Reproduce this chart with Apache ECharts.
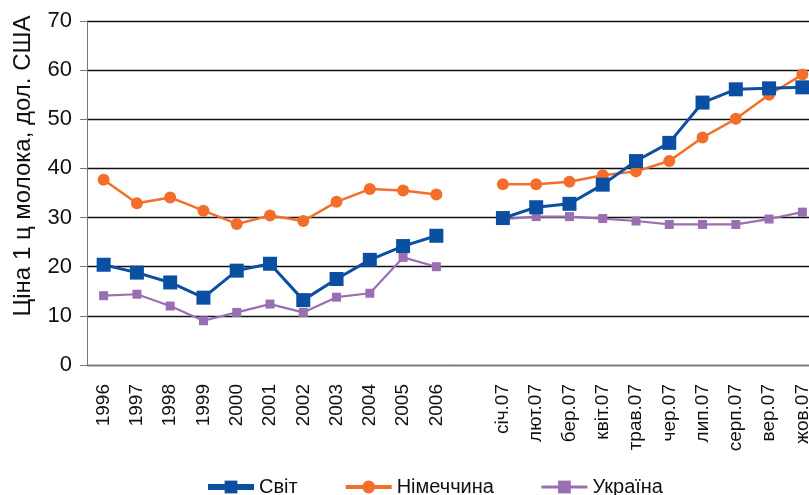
<!DOCTYPE html>
<html>
<head>
<meta charset="utf-8">
<script src="https://cdn.jsdelivr.net/npm/echarts@6/dist/echarts.min.js"></script>
<style>
  html, body { margin: 0; padding: 0; background: #fff; }
  #milkChart { width: 809px; height: 495px; }
</style>
</head>
<body>
<div id="milkChart"></div>
<script>
// категорії: роки, пропуск, місяці 2007
var categories = ['1996', '1997', '1998', '1999', '2000', '2001', '2002', '2003', '2004', '2005', '2006', '',
    'січ.07', 'лют.07', 'бер.07', 'квіт.07', 'трав.07', 'чер.07', 'лип.07', 'серп.07', 'вер.07', 'жов.07'];

var svit = [20.4, 18.8, 16.8, 13.7, 19.2, 20.6, 13.2, 17.5, 21.4, 24.2, 26.3, null,
    29.9, 32.1, 32.8, 36.7, 41.5, 45.2, 53.4, 56.1, 56.3, 56.5];
var nimechchyna = [37.7, 32.9, 34.1, 31.4, 28.7, 30.4, 29.3, 33.2, 35.8, 35.5, 34.7, null,
    36.8, 36.8, 37.3, 38.6, 39.4, 41.5, 46.3, 50.1, 55.0, 59.1];
var ukraina = [14.1, 14.4, 12.0, 9.0, 10.7, 12.4, 10.7, 13.8, 14.6, 21.9, 20.0, null,
    29.7, 30.2, 30.2, 29.8, 29.3, 28.6, 28.6, 28.6, 29.7, 31.1];

var yTicks = [0, 10, 20, 30, 40, 50, 60, 70];

var dom = document.getElementById('milkChart');
var myChart = echarts.init(dom);

var font = 'Liberation Sans, Arial, sans-serif';

var option = {
    animation: false,
    textStyle: { fontFamily: font },
    grid: {
        left: 87,
        top: 21,
        width: 732,
        height: 344,
        containLabel: false,
        outerBoundsMode: 'none'
    },
    legend: {
        left: 200,
        top: 472,
        padding: [5, 5, 0, 5],
        itemWidth: 46,
        itemHeight: 16,
        itemGap: 46,
        textStyle: { fontSize: 20, color: '#111', fontFamily: font },
        data: [
            { name: 'Світ', lineStyle: { width: 6 } },
            { name: 'Німеччина', lineStyle: { width: 4 } },
            { name: 'Україна', lineStyle: { width: 3 } }
        ]
    },
    xAxis: {
        type: 'category',
        data: categories,
        boundaryGap: true,
        axisLine: { lineStyle: { color: '#777', width: 1 } },
        axisTick: { interval: 0, length: 5, lineStyle: { color: '#777' } },
        axisLabel: {
            interval: 0,
            rotate: 90,
            margin: 19,
            fontSize: 19,
            color: '#111',
            fontFamily: font
        },
        splitLine: { show: false }
    },
    yAxis: {
        type: 'value',
        min: yTicks[0],
        max: yTicks[yTicks.length - 1],
        interval: 10,
        name: 'Ціна 1 ц молока, дол. США',
        nameLocation: 'middle',
        nameGap: 52,
        nameRotate: 90,
        nameTextStyle: { fontSize: 24, color: '#111', fontFamily: font, padding: [0, 0, 0, 54] },
        axisLine: { show: true, lineStyle: { color: '#777', width: 1 } },
        axisTick: { show: true, inside: false, length: 7, lineStyle: { color: '#777' } },
        axisLabel: { margin: 15, fontSize: 22, color: '#111', fontFamily: font },
        splitLine: { lineStyle: { color: '#111', width: 1.3 } }
    },
    series: [
        {
            name: 'Світ',
            type: 'line',
            data: svit,
            symbol: 'rect',
            symbolSize: 14,
            connectNulls: false,
            itemStyle: { color: '#0b4fa3' },
            lineStyle: { color: '#0b4fa3', width: 3 },
            z: 3
        },
        {
            name: 'Німеччина',
            type: 'line',
            data: nimechchyna,
            symbol: 'circle',
            symbolSize: 12,
            connectNulls: false,
            itemStyle: { color: '#f26e2a' },
            lineStyle: { color: '#f26e2a', width: 2.5 },
            z: 2
        },
        {
            name: 'Україна',
            type: 'line',
            data: ukraina,
            symbol: 'rect',
            symbolSize: 9,
            connectNulls: false,
            itemStyle: { color: '#9a6fb1' },
            lineStyle: { color: '#9a6fb1', width: 2.2 },
            z: 1
        }
    ]
};

if (option && typeof option === "object") {
    myChart.setOption(option, true);
}

window.addEventListener("resize", function() {
    myChart.resize();
});
</script>
</body>
</html>
